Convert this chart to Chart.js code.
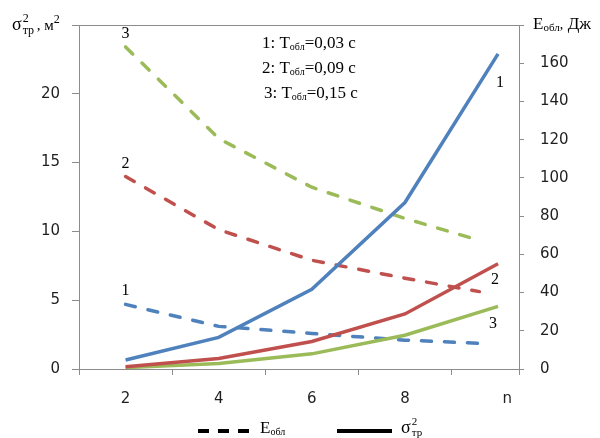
<!DOCTYPE html>
<html>
<head>
<meta charset="utf-8">
<script src="https://cdn.jsdelivr.net/npm/chart.js@4/dist/chart.umd.min.js"></script>
<style>
  body { margin: 0; background: #fff; }
  #wrap { width: 600px; height: 438px; position: relative; }
</style>
</head>
<body>
<div id="wrap"><canvas id="myChart"></canvas></div>
<script>
// n values (last x of the dashed curves stops a bit short of 10)
const nSigma = [2, 4, 6, 8, 10];
const nEnergy = [2, 4, 6, 8, 9.6];

// sigma^2_tr, m^2 (left axis, solid)
const sigma1 = [0.65, 2.3, 5.8, 12.1, 22.9];
const sigma2 = [0.17, 0.77, 2.0, 4.0, 7.65];
const sigma3 = [0.1, 0.4, 1.1, 2.45, 4.55];

// E_obl, J (right axis, dashed)
const energy1 = [33.8, 22.3, 18.6, 15.1, 13.4];
const energy2 = [100.7, 72.9, 56.9, 47.5, 40.5];
const energy3 = [168.5, 120.6, 95.1, 78.8, 67.3];

const leftTicks = [0, 5, 10, 15, 20, 25];
const rightTicks = [0, 20, 40, 60, 80, 100, 120, 140, 160, 180];
const xTicks = [1, 2, 3, 4, 5, 6, 7, 8, 9, 10.2, 10.45];
const xLabels = { 2: '2', 4: '4', 6: '6', 8: '8', 10.2: 'n' };

const periods = ['0,03', '0,09', '0,15'];

const blue = '#4f81bd';
const red = '#c0504d';
const green = '#9bbb59';
const axisGrey = '#8c8c8c';
const tickFont = { family: 'DejaVu Sans', size: 15 };
const serif = 'Liberation Serif';

const pts = (xs, ys) => xs.map((x, i) => ({ x: x, y: ys[i] }));

function solid(data, color) {
  return { data: pts(nSigma, data), yAxisID: 'y', borderColor: color, borderWidth: 3.5,
    pointRadius: 0, tension: 0, fill: false };
}
function dashed(data, color) {
  return { data: pts(nEnergy, data), yAxisID: 'y2', borderColor: color, borderWidth: 3.5,
    borderDash: [10, 13], borderCapStyle: 'round', pointRadius: 0, tension: 0, fill: false };
}

// draw a run of text pieces: [text, fontSize, dy, advance?]
function rich(ctx, x, y, parts) {
  parts.forEach(p => {
    ctx.font = p[1] + 'px ' + serif;
    ctx.fillText(p[0], x, y + p[2]);
    if (p[3] !== false) x += ctx.measureText(p[0]).width;
  });
  return x;
}

const texts = {
  id: 'texts',
  afterDraw(chart) {
    const ctx = chart.ctx;
    const a = chart.chartArea;
    const x = chart.scales.x, y = chart.scales.y, y2 = chart.scales.y2;
    ctx.save();

    // top border of plot
    ctx.strokeStyle = axisGrey;
    ctx.lineWidth = 1;
    ctx.beginPath();
    ctx.moveTo(a.left - 7, a.top + 0.5);
    ctx.lineTo(a.right + 5, a.top + 0.5);
    ctx.stroke();

    ctx.fillStyle = '#000';
    ctx.textBaseline = 'alphabetic';
    ctx.textAlign = 'left';

    // curve numbers
    ctx.font = '16px ' + serif;
    ctx.textAlign = 'center';
    [energy1, energy2, energy3].forEach((e, i) => {
      ctx.fillText(String(i + 1), x.getPixelForValue(nEnergy[0]), y2.getPixelForValue(e[0]) - 9);
    });
    const last = nSigma.length - 1;
    ctx.fillText('1', x.getPixelForValue(nSigma[last]) + 2, y.getPixelForValue(sigma1[last]) + 33);
    ctx.fillText('2', x.getPixelForValue(nSigma[last]) - 3, y.getPixelForValue(sigma2[last]) + 20);
    ctx.fillText('3', x.getPixelForValue(nSigma[last]) - 5, y.getPixelForValue(sigma3[last]) + 22);

    // period box
    ctx.textAlign = 'left';
    periods.forEach((p, i) => {
      const by = 48 + i * 25;
      rich(ctx, 262 + (i === 2 ? 2 : 0), by, [[(i + 1) + ': T', 17, 0], ['обл', 10, 2], ['=' + p + ' с', 17, 0]]);
    });

    // left axis title
    let tx = rich(ctx, 12, 30, [['σ', 18, 0]]);
    rich(ctx, tx + 1, 30, [['2', 12, -8, false], ['тр', 12, 4]]);
    rich(ctx, tx + 15, 30, [[', м', 15, 0], ['2', 12, -7]]);

    // right axis title
    tx = rich(ctx, 533, 29, [['E', 17, 0]]);
    tx = rich(ctx, tx, 29, [['обл', 11, 2], [', ', 14, 0]]);
    rich(ctx, tx + 1, 29, [['Дж', 17, 0]]);

    // bottom legend
    ctx.strokeStyle = '#000';
    ctx.lineWidth = 4;
    ctx.setLineDash([11, 9]);
    ctx.beginPath();
    ctx.moveTo(198, 431);
    ctx.lineTo(251, 431);
    ctx.stroke();
    ctx.setLineDash([]);
    ctx.beginPath();
    ctx.moveTo(337, 431);
    ctx.lineTo(392, 431);
    ctx.stroke();
    rich(ctx, 260, 433, [['E', 17, 0], ['обл', 10, 2]]);
    tx = rich(ctx, 401, 433, [['σ', 18, 0]]);
    rich(ctx, tx + 1, 433, [['2', 11, -8, false], ['тр', 11, 3]]);

    ctx.restore();
  }
};

new Chart(document.getElementById('myChart'), {
  type: 'line',
  data: {
    datasets: [
      solid(sigma1, blue), solid(sigma2, red), solid(sigma3, green),
      dashed(energy1, blue), dashed(energy2, red), dashed(energy3, green)
    ]
  },
  options: {
    responsive: true,
    maintainAspectRatio: false,
    animation: false,
    layout: { padding: { top: 24, left: 0, right: 0, bottom: 0 } },
    plugins: { legend: { display: false }, tooltip: { enabled: false } },
    scales: {
      x: {
        type: 'linear',
        min: 1,
        max: 10.45,
        afterBuildTicks: s => { s.ticks = xTicks.map(v => ({ value: v })); },
        afterFit: s => { s.height = 69; },
        ticks: {
          autoSkip: false, maxRotation: 0, padding: 15, font: tickFont, color: '#1f1f1f',
          callback: v => xLabels[v] || ''
        },
        grid: {
          drawOnChartArea: false, tickLength: 6,
          color: c => (c.tick && (c.tick.value % 2 === 1 || c.tick.value === 10.45)) ? axisGrey : 'rgba(0,0,0,0)'
        },
        border: { color: axisGrey }
      },
      y: {
        position: 'left',
        min: 0,
        max: 25,
        afterBuildTicks: s => { s.ticks = leftTicks.map(v => ({ value: v })); },
        afterFit: s => { s.width = 79; },
        ticks: { padding: 12, font: tickFont, color: '#1f1f1f', callback: v => v === 25 ? '' : v },
        grid: { drawOnChartArea: false, tickLength: 7, color: axisGrey },
        border: { color: axisGrey }
      },
      y2: {
        position: 'right',
        min: 0,
        max: 180,
        afterBuildTicks: s => { s.ticks = rightTicks.map(v => ({ value: v })); },
        afterFit: s => { s.width = 81; },
        ticks: { padding: 16, font: tickFont, color: '#1f1f1f', callback: v => v === 180 ? '' : v },
        grid: { drawOnChartArea: false, tickLength: 5, color: axisGrey },
        border: { color: axisGrey }
      }
    }
  },
  plugins: [texts]
});
</script>
</body>
</html>
